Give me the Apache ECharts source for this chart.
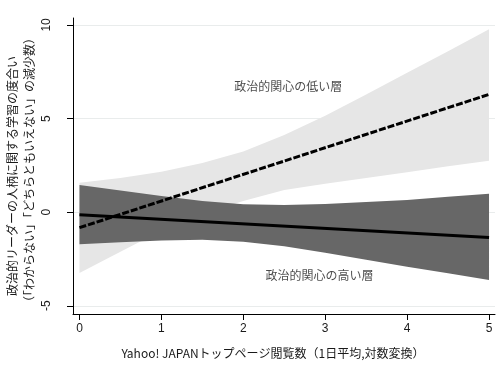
<!DOCTYPE html>
<html>
<head>
<meta charset="utf-8">
<script src="https://cdn.jsdelivr.net/npm/echarts@6/dist/echarts.min.js"></script>
<style>
html,body{margin:0;padding:0;background:#fff;}
#c{width:501px;height:365px;}
</style>
</head>
<body>
<div id="c"></div>
<script>
// ---- data ----
const xVals = [0, 0.5, 1, 1.5, 2, 2.5, 3, 3.5, 4, 4.5, 5];
const lowUpper = [1.57, 1.83, 2.16, 2.62, 3.24, 4.12, 5.15, 6.28, 7.45, 8.60, 9.77];
const lowLower = [-3.25, -2.12, -1.00, -0.10, 0.60, 1.18, 1.52, 1.82, 2.13, 2.45, 2.75];
const highUpper = [1.45, 1.16, 0.86, 0.60, 0.42, 0.38, 0.43, 0.54, 0.65, 0.82, 0.98];
const highLower = [-1.72, -1.61, -1.52, -1.47, -1.58, -1.82, -2.17, -2.54, -2.92, -3.27, -3.63];
const lineX = [0, 5];
const lowLine = [-0.83, 6.29];
const highLine = [-0.14, -1.35];
const yTicks = [-5, 0, 5, 10];
const xTicks = [0, 1, 2, 3, 4, 5];
const annotations = [
  [2.55, 6.69, '政治的関心の低い層'],
  [2.93, -3.36, '政治的関心の高い層']
];
const yTitle1 = '政治的リーダーの人柄に関する学習の度合い';
const yTitle2 = '（「わからない」「どちらともいえない」の減少数）';
const xTitle = 'Yahoo! JAPANトップページ閲覧数（1日平均,対数変換）';

const latin = '"Liberation Sans", Arial, sans-serif';
const cjk = '"Noto Sans CJK JP", sans-serif';
const txt = '#1a1a1a';

const pairs = (xs, ys) => xs.map((x, i) => [x, ys[i]]);

// band polygon drawn through the chart's own coordinate system
function bandSeries(upper, lower, color, z) {
  return {
    type: 'custom', z: z, silent: true,
    data: [[xVals[0], upper[0]]],
    renderItem: function (params, api) {
      const pts = [];
      for (let i = 0; i < xVals.length; i++) pts.push(api.coord([xVals[i], upper[i]]));
      for (let i = xVals.length - 1; i >= 0; i--) pts.push(api.coord([xVals[i], lower[i]]));
      return {type: 'polygon', shape: {points: pts}, style: {fill: color, stroke: null}};
    }
  };
}

const chart = echarts.init(document.getElementById('c'), null, {renderer: 'canvas'});
chart.setOption({
  animation: false,
  backgroundColor: '#ffffff',
  grid: {left: 73, right: 6, top: 18, bottom: 51, containLabel: false},
  xAxis: {
    type: 'value', min: -0.079, max: 5.073,
    axisLine: {show: true, onZero: false, lineStyle: {color: '#000', width: 1}},
    axisTick: {show: true, length: 6, lineStyle: {color: '#000'}, customValues: xTicks},
    axisLabel: {customValues: xTicks, margin: 9, fontSize: 12, fontFamily: latin, color: txt},
    splitLine: {show: false}
  },
  yAxis: {
    type: 'value', min: -5.44, max: 10.37,
    axisLine: {show: true, onZero: false, lineStyle: {color: '#000', width: 1}},
    axisTick: {show: true, length: 6, lineStyle: {color: '#000'}, customValues: yTicks},
    axisLabel: {customValues: yTicks, rotate: 90, margin: 20, fontSize: 12, fontFamily: latin, color: txt},
    splitLine: {show: true, lineStyle: {color: '#e9ecec', width: 1}}
  },
  graphic: [
    {type: 'text', x: 12, y: 176, rotation: Math.PI / 2,
     style: {text: yTitle1, font: '12px ' + cjk, fill: txt, align: 'center', verticalAlign: 'middle'}},
    {type: 'text', x: 29, y: 170, rotation: Math.PI / 2,
     style: {text: yTitle2, font: '12px ' + cjk, fill: txt, align: 'center', verticalAlign: 'middle'}},
    {type: 'text', x: 273, y: 353,
     style: {text: xTitle, font: '12px ' + cjk, fill: txt, align: 'center', verticalAlign: 'middle'}}
  ],
  series: [
    bandSeries(lowUpper, lowLower, '#e6e6e6', 1),
    bandSeries(highUpper, highLower, '#676767', 2),
    {type: 'line', name: 'lowLine', data: pairs(lineX, lowLine), symbol: 'none', z: 3,
     lineStyle: {color: '#000', width: 3, type: [7, 2], cap: 'butt'}},
    {type: 'line', name: 'highLine', data: pairs(lineX, highLine), symbol: 'none', z: 4,
     lineStyle: {color: '#000', width: 3, type: 'solid'}},
    {type: 'scatter', name: 'notes', data: annotations, symbolSize: 1, z: 5,
     itemStyle: {color: 'transparent'},
     label: {show: true, position: 'inside', formatter: p => p.data[2],
             fontSize: 12, fontFamily: cjk, color: txt}}
  ]
});
</script>
</body>
</html>
